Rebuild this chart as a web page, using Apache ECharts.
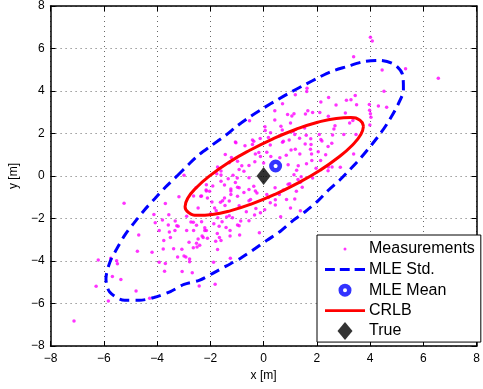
<!DOCTYPE html>
<html>
<head>
<meta charset="utf-8">
<script src="https://cdn.jsdelivr.net/npm/echarts@6/dist/echarts.min.js"></script>
<style>
  html, body { margin: 0; padding: 0; background: #fff; }
  #main { width: 483px; height: 389px; }
</style>
</head>
<body>
<div id="main"></div>
<script>
// axis ticks, same for x and y
const axisTicks = [-8, -6, -4, -2, 0, 2, 4, 6, 8];

const measurements = [
  [1.63, 4.13], [1.62, 3.98], [1.19, 3.82], [0.71, 3.40], [2.15, 3.48], [1.66, 3.07], [0.42, 3.07], [0.90, 2.89],
  [1.14, 2.93], [1.06, 2.82], [1.84, 2.99], [2.11, 2.99], [1.57, 2.92], [0.42, 2.64], [1.01, 2.50], [-0.53, 2.60],
  [0.05, 2.32], [0.65, 2.34],
  [4.01, 6.53], [4.08, 6.35], [3.38, 5.61], [4.45, 4.99], [5.33, 5.05], [6.56, 4.60], [4.52, 3.99], [2.44, 3.70],
  [3.11, 3.56], [3.28, 3.59], [3.44, 3.79], [2.72, 3.34], [3.49, 3.35], [3.97, 3.37], [4.31, 3.29], [4.62, 3.24],
  [3.98, 3.10], [4.01, 2.93], [3.07, 2.96], [2.43, 2.81], [4.03, 2.76], [3.35, 2.61], [3.23, 2.50], [2.68, 2.37],
  [3.99, 2.40],
  [2.64, 2.21], [3.47, 1.95], [2.59, 1.93], [3.01, 1.95], [2.56, 1.54], [2.42, 1.39], [3.38, 1.04], [2.43, 0.42],
  [2.57, 0.42], [2.88, 0.41], [2.42, 0.25],
  [-5.24, -1.28], [-2.99, 0.03], [-3.18, -0.98], [-3.69, -1.29], [-4.12, -1.81], [-3.56, -1.82], [-3.80, -2.07],
  [-4.07, -2.20], [-3.58, -2.31], [-3.32, -2.12], [-3.21, -2.37],
  [-2.64, -2.18], [-2.15, -2.57], [-1.41, -2.42], [-0.92, -2.34], [-0.55, -2.11], [-2.27, -2.89], [-1.66, -2.89],
  [-4.69, -2.78], [-3.92, -2.56], [-3.54, -2.64], [-3.33, -2.56], [-3.75, -3.03], [-4.74, -3.54], [-4.19, -3.59],
  [-3.77, -3.43], [-3.38, -3.42], [-3.07, -3.45], [-3.23, -3.81], [-2.99, -3.76], [-6.21, -3.95], [-5.74, -3.87],
  [-5.52, -3.99], [-5.49, -4.13], [-3.92, -4.06], [-3.69, -4.12], [-3.72, -4.48], [-3.06, -4.49], [-5.68, -4.73],
  [-5.36, -4.87], [-6.29, -5.19], [-4.79, -5.41], [-5.83, -5.88], [-4.28, -5.75], [-7.12, -6.82],
  [-2.89, -2.57], [-2.63, -2.57], [-2.21, -2.57], [-1.74, -2.71], [-1.26, -2.57], [-1.26, -2.82], [-0.90, -2.78],
  [-0.16, -2.67], [-2.80, -3.12], [-2.46, -2.96], [-2.31, -2.82], [-2.11, -2.93], [-1.80, -3.07], [-1.60, -3.04],
  [-2.52, -3.17], [-2.40, -3.26], [-2.64, -3.38], [-2.50, -3.34], [-1.73, -3.46], [-2.92, -3.81], [-2.78, -3.90],
  [-2.78, -4.04], [-1.88, -4.06], [-1.25, -3.87], [-2.68, -4.55], [-1.82, -5.09], [-2.42, -5.18],
  [0.70, 2.17], [0.26, 2.04], [0.18, 1.81], [-0.13, 1.76], [0.06, 2.14], [0.60, 1.89], [0.71, 1.59], [0.96, 1.70],
  [1.60, 1.92], [1.77, 1.75], [1.56, 1.51], [2.09, 1.95], [2.19, 1.65], [1.19, 1.26], [1.03, 1.22], [1.36, 1.04],
  [1.76, 1.26], [1.80, 1.04], [2.05, 1.14], [2.14, 0.73], [1.81, 0.73], [1.61, 0.58], [1.30, 0.48], [1.24, 0.27],
  [1.14, 0.06], [1.41, -0.03], [1.38, -0.29], [1.45, -0.53], [0.92, 0.53], [0.85, 0.98], [0.61, 0.86], [0.27, 0.92],
  [0.12, 1.12], [-0.18, 1.11], [-0.31, 1.04], [-0.33, 0.67], [0.00, 0.61], [-0.42, 1.70], [-0.42, 1.48], [-0.70, 1.42],
  [-1.06, 1.60], [-1.44, 1.01], [-1.21, 0.87], [-0.55, 0.50], [-0.82, 0.48], [-1.73, 0.42], [-1.76, 0.11], [-1.60, 0.05],
  [-1.15, 0.03], [-0.99, -0.09], [-1.33, -0.13], [-1.06, -0.31], [-0.98, -0.53], [-1.23, -0.61], [-1.47, -0.42],
  [-1.60, -0.25], [-1.91, -0.47], [-2.15, -0.41], [-2.16, -0.66], [-2.54, -0.55], [-2.36, -0.95], [-2.63, -0.94],
  [-2.11, -1.03], [-1.94, -1.22], [-1.62, -1.23], [-1.45, -1.39], [-1.29, -1.18], [-0.98, -0.95], [-0.74, -0.78],
  [-0.55, -0.64], [-0.37, -0.48], [-0.25, -0.80], [-0.29, -1.53], [0.04, -1.59], [0.44, -1.12], [0.44, -1.37],
  [0.59, -0.87], [0.74, -0.66], [0.98, -0.36], [1.01, -1.50], [0.64, -1.92], [1.38, -1.64], [1.17, -1.08],
  [-1.17, -1.96], [-1.39, -1.93], [-0.65, -1.68], [-0.34, -1.84], [-1.99, -1.78], [-1.72, -1.96], [-1.87, -2.25],
  [-1.67, -2.37], [-1.56, -2.15], [-2.21, -2.43], [-0.98, -2.31], [-2.89, -1.89], [-2.73, -2.17], [-2.33, -2.15],
  [-2.52, -2.32],
  [-0.12, 0.92], [-0.98, 0.69], [-0.74, 0.22], [-2.03, -0.72], [-1.23, -0.87], [-1.47, -1.03], [-0.49, -1.11],
  [0.12, -0.87], [0.25, -1.26], [0.86, -1.11], [1.23, -0.72], [1.84, -0.09], [1.97, 0.37], [2.33, 1.00],
  [0.25, 1.46], [1.35, 1.78], [1.11, 2.09], [-0.12, -1.73], [-0.86, -2.12], [-2.46, -1.50], [-1.84, -1.50],
  [-1.04, 1.56], [-0.37, 1.64], [0.74, 1.64], [1.17, 1.95], [1.54, 2.26], [1.78, 1.48], [2.15, 1.72],
  [-1.29, 0.62], [-1.60, 0.23], [-0.92, 0.31], [-0.55, -0.08], [-2.15, -0.70], [-2.33, -0.94], [-1.23, -0.70],
  [-0.92, -0.55], [-0.31, -0.70], [0.18, -1.01], [0.43, -0.55], [0.92, -0.39], [1.29, -0.16], [-1.54, -1.17],
  [-0.92, -1.40], [-0.55, -1.17], [-1.78, -1.64], [-1.29, -1.87], [-3.26, -2.34], [-3.50, -2.89]
];

// MLE std. ellipse outline
const mleStd = [
  [-3.26, -0.01], [-2.83, 0.53], [-2.46, 0.97], [-1.93, 1.46], [-1.41, 1.93], [-0.98, 2.37], [-0.49, 2.81],
  [0.00, 3.20], [0.52, 3.59], [1.01, 3.94], [1.54, 4.29], [2.09, 4.65], [2.52, 4.91], [3.13, 5.15], [3.75, 5.38],
  [4.34, 5.44], [4.91, 5.25], [5.22, 4.76], [5.25, 4.06], [5.04, 3.35], [4.73, 2.65], [4.42, 2.06], [4.05, 1.46],
  [3.66, 0.87], [3.26, 0.33], [2.85, -0.20], [2.43, -0.67], [2.03, -1.18], [1.56, -1.68], [1.11, -2.09],
  [0.62, -2.61], [0.12, -3.03], [-0.37, -3.46], [-0.88, -3.88], [-1.41, -4.24], [-1.91, -4.58], [-2.42, -4.91],
  [-2.99, -5.10], [-3.50, -5.44], [-4.12, -5.72], [-4.67, -5.85], [-5.22, -5.85], [-5.78, -5.46], [-5.92, -4.83],
  [-5.78, -4.08], [-5.53, -3.46], [-5.20, -2.76], [-4.88, -2.23], [-4.49, -1.62], [-4.08, -1.06], [-3.69, -0.53],
  [-3.26, -0.01]
];

// CRLB ellipse outline
const crlb = [
  [3.75, 2.35], [3.62, 2.62], [3.28, 2.75], [2.73, 2.71], [2.03, 2.53], [1.22, 2.20], [0.35, 1.75], [-0.52, 1.21],
  [-1.32, 0.63], [-2.00, 0.03], [-2.53, -0.55], [-2.85, -1.05], [-2.95, -1.45], [-2.82, -1.72], [-2.48, -1.85],
  [-1.93, -1.81], [-1.23, -1.63], [-0.42, -1.30], [0.45, -0.85], [1.32, -0.31], [2.12, 0.27], [2.80, 0.87],
  [3.33, 1.45], [3.65, 1.95], [3.75, 2.35]
];

const mleMean = [[0.45, 0.47]];
const truePos = [[0, 0]];

const seriesNames = ['Measurements', 'MLE Std.', 'MLE Mean', 'CRLB', 'True'];

const FONT = 'Liberation Sans, Arial, Helvetica, sans-serif';
const MAGENTA = '#ff00ff';
const BLUE = '#0000ff';
const RED = '#ff0000';

// legend icons drawn in a 40x20 box (the two leading moves fix the box)
const BOX = 'path://M0,0M40,20';
const icons = {
  dot: BOX + 'M18.5,10a1.5,1.5 0 1 0 3,0a1.5,1.5 0 1 0 -3,0z',
  dash: BOX + 'M0,8.5h10v3h-10zM15,8.5h10v3h-10zM30,8.5h10.5v3h-10.5z',
  ring: BOX + 'M13.5,10a6.5,6.5 0 1 1 13,0a6.5,6.5 0 1 1 -13,0zM18,10a2,2 0 1 0 4,0a2,2 0 1 0 -4,0z',
  line: BOX + 'M0,8.7h41v2.6h-41z',
  diamond: BOX + 'M20,1L27.5,10L20,19L12.5,10z'
};

const fmt = v => (v < 0 ? '\u2212' + (-v) : String(v));
const axMin = axisTicks[0];
const axMax = axisTicks[axisTicks.length - 1];
const axStep = axisTicks[1] - axisTicks[0];

function mainAxis(name, gap) {
  return {
    type: 'value',
    min: axMin, max: axMax, interval: axStep,
    name: name,
    nameLocation: 'middle',
    nameGap: gap,
    nameTextStyle: { color: '#000', fontSize: 12, fontFamily: FONT },
    axisLine: { show: true, onZero: false, lineStyle: { color: '#000', width: 1.5 } },
    axisTick: { show: true, inside: true, length: 5, lineStyle: { color: '#000', width: 1 } },
    axisLabel: { color: '#000', fontSize: 12, fontFamily: FONT, margin: 7, formatter: fmt },
    splitLine: { show: true, lineStyle: { color: '#666', width: 1, type: [1, 4] } }
  };
}

function boxAxis(pos) {
  return {
    type: 'value', position: pos,
    min: axMin, max: axMax, interval: axStep,
    axisLine: { show: true, onZero: false, lineStyle: { color: '#000', width: 1.5 } },
    axisTick: { show: true, inside: true, length: 5, lineStyle: { color: '#000', width: 1 } },
    axisLabel: { show: false },
    splitLine: { show: false }
  };
}

const chart = echarts.init(document.getElementById('main'));

const xMain = mainAxis('x [m]', 19);
const yMain = mainAxis('y [m]', 26);
yMain.axisLabel.margin = 6;

chart.setOption({
  animation: false,
  backgroundColor: '#fff',
  grid: { left: 48, right: 1, top: 4, bottom: 43 },
  xAxis: [xMain, boxAxis('top')],
  yAxis: [yMain, boxAxis('right')],
  legend: {
    orient: 'vertical',
    left: 317,
    top: 235,
    z: 10,
    padding: [4, 6, 1, 8],
    itemWidth: 40,
    itemHeight: 20,
    itemGap: 0.7,
    backgroundColor: '#fff',
    borderColor: '#000',
    borderWidth: 1,
    borderRadius: 0,
    selectedMode: false,
    itemStyle: { borderWidth: 0 },
    textStyle: { color: '#000', fontSize: 16, fontFamily: FONT, padding: [0, 0, 0, -1] },
    data: [
      { name: seriesNames[0], icon: icons.dot, itemStyle: { color: MAGENTA, borderWidth: 0 } },
      { name: seriesNames[1], icon: icons.dash, itemStyle: { color: BLUE, borderWidth: 0 } },
      { name: seriesNames[2], icon: icons.ring, itemStyle: { color: BLUE, borderWidth: 0 } },
      { name: seriesNames[3], icon: icons.line, itemStyle: { color: RED, borderWidth: 0 } },
      { name: seriesNames[4], icon: icons.diamond, itemStyle: { color: '#000', borderWidth: 0 } }
    ]
  },
  series: [
    {
      name: seriesNames[0],
      type: 'scatter',
      symbol: 'circle',
      symbolSize: 3.5,
      itemStyle: { color: MAGENTA },
      data: measurements,
      z: 2
    },
    {
      name: seriesNames[1],
      type: 'line',
      smooth: 0.3,
      showSymbol: false,
      symbol: 'none',
      lineStyle: { color: BLUE, width: 3, type: [10, 6] },
      itemStyle: { color: BLUE },
      data: mleStd,
      z: 3
    },
    {
      name: seriesNames[2],
      type: 'scatter',
      symbol: 'circle',
      symbolSize: 8.5,
      itemStyle: { color: '#fff', borderColor: BLUE, borderWidth: 4.5 },
      data: mleMean,
      z: 4
    },
    {
      name: seriesNames[3],
      type: 'line',
      smooth: 0.5,
      showSymbol: false,
      symbol: 'none',
      lineStyle: { color: RED, width: 3 },
      itemStyle: { color: RED },
      data: crlb,
      z: 5
    },
    {
      name: seriesNames[4],
      type: 'scatter',
      symbol: 'diamond',
      symbolSize: [14, 18],
      itemStyle: { color: '#000' },
      data: truePos,
      z: 6
    }
  ]
});
</script>
</body>
</html>
